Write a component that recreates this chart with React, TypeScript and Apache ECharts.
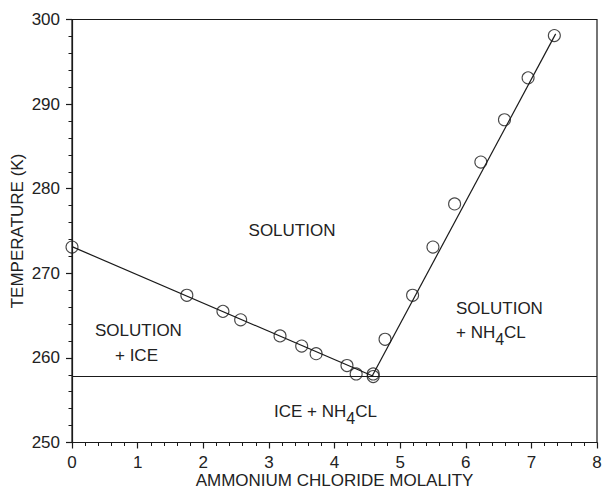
import React, { useEffect, useRef } from "react";
import * as echarts from "echarts";

// Measured points: ammonium chloride molality vs temperature (K)
const iceBranchX = [0, 1.75, 2.3, 2.57, 3.17, 3.5, 3.72, 4.19, 4.33, 4.59];
const iceBranchT = [273.1, 267.4, 265.5, 264.5, 262.6, 261.4, 260.5, 259.1, 258.1, 258.1];
const saltBranchX = [4.59, 4.77, 5.19, 5.5, 5.83, 6.23, 6.59, 6.95, 7.35];
const saltBranchT = [257.8, 262.2, 267.4, 273.1, 278.2, 283.15, 288.15, 293.1, 298.1];

// Fitted liquidus lines (endpoints) and eutectic temperature
const iceFitX = [0, 4.6];
const iceFitT = [273.15, 257.8];
const saltFitX = [4.57, 7.37];
const saltFitT = [257.8, 298.3];
const eutecticX = [0, 8];
const eutecticT = [257.8, 257.8];

const xTicks = { min: 0, max: 8, interval: 1 };
const yTicks = { min: 250, max: 300, interval: 10 };

const zip = (xs: number[], ys: number[]) => xs.map((x, i) => [x, ys[i]]);

const FONT = "'Liberation Sans', Arial, Helvetica, sans-serif";
const TXT = "#222";
const LINE = "#1a1a1a";

export default function App() {
  const ref = useRef<HTMLDivElement>(null);
  useEffect(() => {
    if (!ref.current) return;
    const chart = echarts.init(ref.current, undefined, { renderer: "svg" });
    const sub = { fontSize: 16, fontFamily: FONT, fill: TXT, padding: [14, 0, 0, 0] } as any;
    const txtStyle = (text: string, x: number, y: number, align = "left") => ({
      type: "text",
      x,
      y,
      style: {
        text,
        fill: TXT,
        fontSize: 17,
        fontFamily: FONT,
        align,
        verticalAlign: "middle",
        rich: {
          sub,
        },
      },
    });
    chart.setOption({
      animation: false,
      grid: {
        left: 72,
        right: 7,
        top: 19.5,
        bottom: 46.5,
        outerBoundsMode: "none",
        containLabel: false,
        show: true,
        borderColor: LINE,
        borderWidth: 1.2,
      },
      xAxis: {
        type: "value",
        min: xTicks.min,
        max: xTicks.max,
        interval: xTicks.interval,
        name: "AMMONIUM CHLORIDE MOLALITY",
        nameLocation: "middle",
        nameGap: 29,
        nameMoveOverlap: false,
        nameTextStyle: { color: TXT, fontSize: 17, fontFamily: FONT },
        axisLine: { show: true, lineStyle: { color: LINE, width: 1.2 } },
        axisTick: { show: true, length: 6, lineStyle: { color: LINE, width: 1.2 } },
        minorTick: { show: true, splitNumber: 5, length: 3.5, lineStyle: { color: LINE, width: 1 } },
        axisLabel: { color: TXT, fontSize: 17, fontFamily: FONT, margin: 11 },
        splitLine: { show: false },
      },
      yAxis: {
        type: "value",
        min: yTicks.min,
        max: yTicks.max,
        interval: yTicks.interval,
        name: "TEMPERATURE (K)",
        nameLocation: "middle",
        nameGap: 46,
        nameMoveOverlap: false,
        nameTextStyle: { color: TXT, fontSize: 17, fontFamily: FONT },
        axisLine: { show: true, lineStyle: { color: LINE, width: 1.2 } },
        axisTick: { show: true, length: 6, lineStyle: { color: LINE, width: 1.2 } },
        minorTick: { show: true, splitNumber: 5, length: 3.5, lineStyle: { color: LINE, width: 1 } },
        axisLabel: { color: TXT, fontSize: 17, fontFamily: FONT, margin: 12 },
        splitLine: { show: false },
      },
      series: [
        {
          type: "line",
          data: zip(eutecticX, eutecticT),
          showSymbol: false,
          lineStyle: { color: LINE, width: 1.2 },
          silent: true,
        },
        {
          type: "line",
          data: zip(iceFitX, iceFitT),
          showSymbol: false,
          lineStyle: { color: LINE, width: 1.2 },
          silent: true,
        },
        {
          type: "line",
          data: zip(saltFitX, saltFitT),
          showSymbol: false,
          lineStyle: { color: LINE, width: 1.2 },
          silent: true,
        },
        {
          type: "scatter",
          data: zip(iceBranchX, iceBranchT),
          symbol: "circle",
          symbolSize: 12,
          itemStyle: { color: "rgba(255,255,255,0)", borderColor: LINE, borderWidth: 1.1 },
        },
        {
          type: "scatter",
          data: zip(saltBranchX, saltBranchT),
          symbol: "circle",
          symbolSize: 12,
          itemStyle: { color: "rgba(255,255,255,0)", borderColor: LINE, borderWidth: 1.1 },
        },
      ],
      graphic: [
        txtStyle("SOLUTION", 292, 230, "center"),
        txtStyle("SOLUTION", 95, 330),
        txtStyle("+ ICE", 115, 355),
        txtStyle("SOLUTION", 456, 308),
        txtStyle("+ NH{sub|4}CL", 456, 332),
        txtStyle("ICE + NH{sub|4}CL", 274, 411),
      ],
    });
    return () => chart.dispose();
  }, []);
  return (
    <div
      ref={ref}
      style={{ position: "fixed", left: 0, top: 0, width: 604, height: 489, background: "#fff" }}
    />
  );
}
